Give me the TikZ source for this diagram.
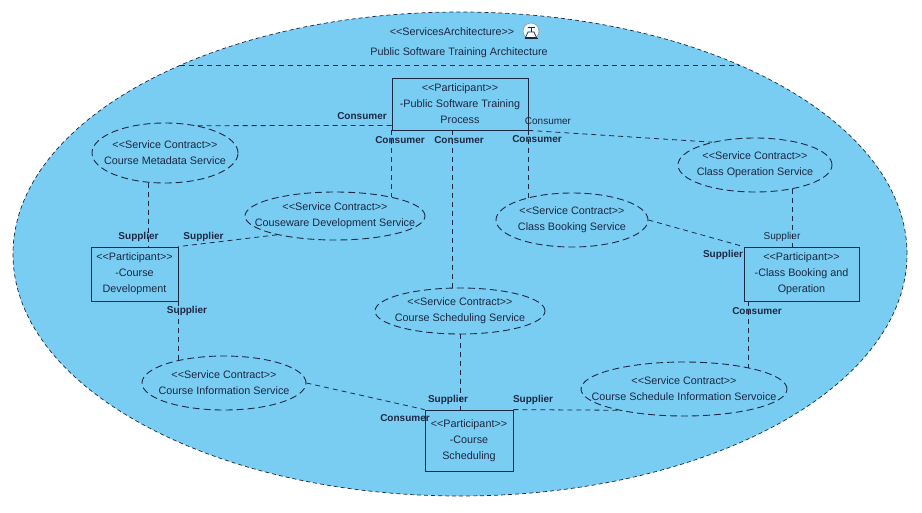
\documentclass[tikz,border=0pt]{standalone}
\usepackage{fontspec}
\setmainfont{Liberation Sans}
\usetikzlibrary{shapes.geometric,positioning}
\definecolor{archblue}{RGB}{122,205,242}
\definecolor{ink}{RGB}{28,40,68}
\newcommand{\stype}[1]{<\kern0pt<#1>\kern0pt>}
\newcommand{\contract}[1]{\makebox[0pt]{\stype{Service Contract}}\\\makebox[0pt]{#1}}

\begin{document}
\begin{tikzpicture}[x=1pt,y=-1pt,color=ink,
   participant/.style={draw,rectangle,line width=0.8pt,inner sep=0pt,align=center,font=\fontsize{10.8}{16}\selectfont},
   svc/.style={draw,ellipse,dash pattern=on 7pt off 4pt,line width=0.9pt,inner sep=0pt,align=center,font=\fontsize{10.8}{16}\selectfont},
   link/.style={dash pattern=on 5pt off 4pt,line width=0.8pt},
   role/.style={inner sep=0pt,font=\bfseries\fontsize{10}{12}\selectfont},
   roleplain/.style={role,font=\fontsize{10}{12}\selectfont}]
   \useasboundingbox (0,0) rectangle (922,512);
   % the architecture
   \node[draw,ellipse,fill=archblue,dash pattern=on 4pt off 3pt,line width=0.7pt,
      minimum width=894pt,minimum height=484pt,inner sep=0pt] (arch) at (460,254) {};
   \node[font=\fontsize{10.8}{12}\selectfont] (archtype) at (452,32) {\stype{ServicesArchitecture}};
   \node[font=\fontsize{10.8}{12}\selectfont] (archname) at (459,53) {Public Software Training Architecture};
   \node[circle,draw=gray!75,line width=0.7pt,fill=white!88!archblue,minimum size=16pt,inner sep=0pt] (icon) at (531,31) {};
   \draw[line width=0.9pt] ([xshift=-3.5pt,yshift=3.5pt]icon.center) -- ([xshift=3.5pt,yshift=3.5pt]icon.center)
      ([yshift=3.5pt]icon.center) -- ([yshift=-1pt]icon.center);
   \draw[fill=white,line width=0.7pt] ([xshift=-3pt,yshift=-1pt]icon.center) -- ([xshift=3pt,yshift=-1pt]icon.center)
      -- ([xshift=5.5pt,yshift=-6.5pt]icon.center) -- ([xshift=-5.5pt,yshift=-6.5pt]icon.center) -- cycle;
   \draw[line width=1.8pt] ([xshift=-6.5pt,yshift=-7.5pt]icon.center) -- ([xshift=6.5pt,yshift=-7.5pt]icon.center);
   \draw[link] (arch.146) -- (arch.34);

   % participants
   \node[participant,minimum width=136pt,minimum height=52pt] (proc) at (460,104)
      {\stype{Participant}\\-Public Software Training\\Process};
   \node[participant,minimum width=87pt,minimum height=54pt] (cdev) at (134.5,274)
      {\stype{Participant}\\-Course\\Development};
   \node[participant,minimum width=115pt,minimum height=54pt] (cbo) at (801.5,274)
      {\stype{Participant}\\-Class Booking and\\Operation};
   \node[participant,minimum width=88pt,minimum height=61pt] (cs) at (469,440.5)
      {\stype{Participant}\\-Course\\Scheduling};

   % service contracts
   \node[svc,minimum width=146pt,minimum height=60pt] (cmeta) at (165,153) {\contract{Course Metadata Service}};
   \node[svc,minimum width=180pt,minimum height=48pt] (cware) at (335,216) {\contract{Couseware Development Service}};
   \node[svc,minimum width=154pt,minimum height=54pt] (cop) at (755,165) {\contract{Class Operation Service}};
   \node[svc,minimum width=152pt,minimum height=54pt] (cbook) at (572,220) {\contract{Class Booking Service}};
   \node[svc,minimum width=170pt,minimum height=46pt] (csched) at (460,311) {\contract{Course Scheduling Service}};
   \node[svc,minimum width=164pt,minimum height=54pt] (cinfo) at (224,383) {\contract{Course Information Service}};
   \node[svc,minimum width=206pt,minimum height=54pt] (csinfo) at (684,389) {\contract{Course Schedule Information Servoice}};

   % connectors
   \draw[link] ([yshift=5pt]proc.south west) -- (cmeta.40);
   \draw[link] (proc.south west) -- (proc.south west |- cware.18);
   \draw[link] ([xshift=-8pt]proc.south) -- ([xshift=-8pt]proc.south |- csched.north);
   \draw[link] (proc.south east) -- (proc.south east |- cbook.153);
   \draw[link] (proc.south east) -- (cop.152);
   \draw[link] (cmeta.240) -- (cmeta.240 |- cdev.north);
   \draw[link] (cware.198) -- (cdev.north east);
   \draw[link] (cop.327) -- (cop.327 |- cbo.north);
   \draw[link] (cbook.east) -- (cbo.north west);
   \draw[link] (cdev.south east) -- (cdev.south east |- cinfo.154);
   \draw[link] ([xshift=5pt]cbo.south west) -- ([xshift=5pt]cbo.south west |- csinfo.18);
   \draw[link] (csched.south) -- (csched.south |- cs.north);
   \draw[link] (cinfo.east) -- (cs.north west);
   \draw[link] (cs.north east) -- (csinfo.198);

   % roles
   \node[role] (cons1) at (362,116) {Consumer};
   \node[role] (cons2) at (400,140) {Consumer};
   \node[role] (cons3) at (459,140) {Consumer};
   \node[role] (cons4) at (537,139) {Consumer};
   \node[roleplain] (cons5) at (548,121) {Consumer};
   \node[role] (cons6) at (757,311) {Consumer};
   \node[role] (cons7) at (405,418) {Consumer};
   \node[role] (sup1) at (138.5,237) {Supplier};
   \node[role] (sup2) at (203.5,237) {Supplier};
   \node[roleplain] (sup3) at (782,237) {Supplier};
   \node[role] (sup4) at (723,255) {Supplier};
   \node[role] (sup5) at (187,311) {Supplier};
   \node[role] (sup6) at (448,400) {Supplier};
   \node[role] (sup7) at (533,400) {Supplier};
\end{tikzpicture}
\end{document}
